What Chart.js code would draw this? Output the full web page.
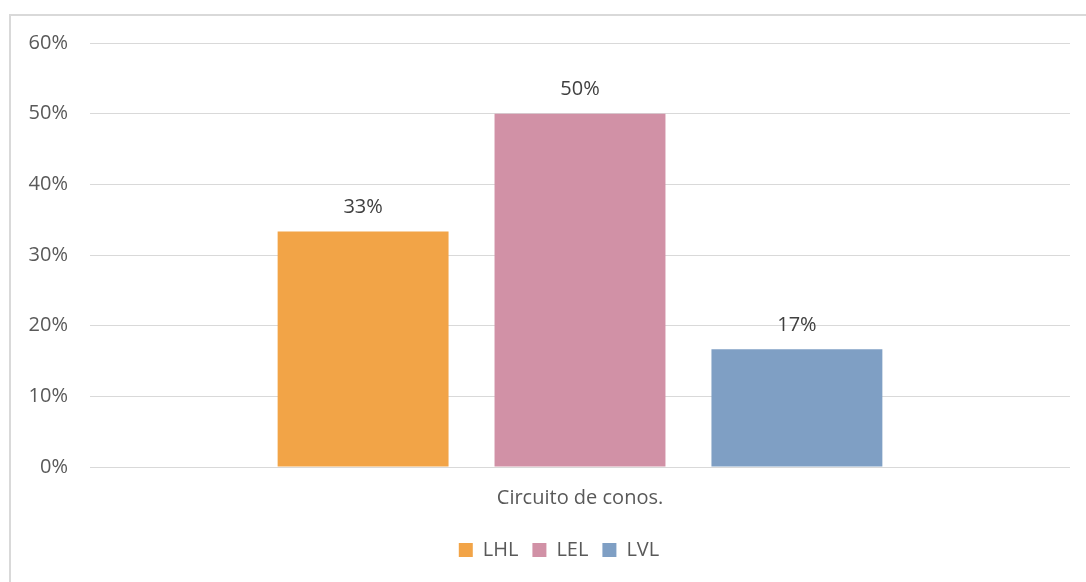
<!DOCTYPE html>
<html>
<head>
<meta charset="utf-8">
<script src="https://cdn.jsdelivr.net/npm/chart.js@4"></script>
<style>
    html, body { margin: 0; background: #fff; overflow: hidden; width: 1086px; height: 582px; }
    #frame { position: absolute; left: 9px; top: 14px; width: 1102px; height: 600px; border: 2px solid #d9d9d9; box-sizing: border-box; }
    #wrap { position: absolute; left: 9px; top: 9px; width: 1100px; height: 573px; }
</style>
</head>
<body>
<div id="frame"></div>
<div id="wrap"><canvas id="chart"></canvas></div>
<script>
const categories = ["Circuito de conos."];
const seriesNames = ["LHL", "LEL", "LVL"];
const seriesValues = [[33.33], [50], [16.67]];
const seriesColors = ["#f2a447", "#d191a6", "#7f9fc4"];
const yTicks = [0, 10, 20, 30, 40, 50, 60];

const fontFamily = '"Open Sans", sans-serif';

// Value labels above bars
const valueLabels = {
    id: 'valueLabels',
    afterDatasetsDraw(chart) {
        const ctx = chart.ctx;
        ctx.save();
        ctx.font = '20px ' + fontFamily;
        ctx.fillStyle = '#404040';
        ctx.textAlign = 'center';
        ctx.textBaseline = 'bottom';
        chart.data.datasets.forEach((ds, i) => {
            chart.getDatasetMeta(i).data.forEach((bar, j) => {
                ctx.fillText(Math.round(ds.data[j]) + '%', bar.x, bar.y - 14);
            });
        });
        ctx.restore();
    }
};

const ctx = document.getElementById('chart').getContext('2d');
new Chart(ctx, {
    type: 'bar',
    data: {
        labels: categories,
        datasets: seriesNames.map((name, i) => ({
            label: name,
            data: seriesValues[i],
            backgroundColor: seriesColors[i],
            categoryPercentage: 0.664,
            barPercentage: 0.788
        }))
    },
    options: {
        responsive: true,
        maintainAspectRatio: false,
        animation: false,
        layout: { padding: { left: 0, right: 0, top: 24, bottom: 12 } },
        scales: {
            x: {
                afterFit(scale) { scale.height += 5; },
                grid: { display: false },
                border: { display: false },
                ticks: { color: '#595959', font: { size: 20, family: fontFamily }, padding: 11 }
            },
            y: {
                min: 0,
                max: 60,
                afterBuildTicks(scale) { scale.ticks = yTicks.map(v => ({ value: v })); },
                afterFit(scale) { scale.width = 81; },
                grid: { color: '#d9d9d9', lineWidth: 1, drawTicks: false },
                border: { display: false },
                ticks: {
                    color: '#595959',
                    font: { size: 20, family: fontFamily },
                    padding: 22,
                    callback: v => v + '%'
                }
            },
            // empty spacer on the right so the plot ends before the frame edge
            yRight: {
                position: 'right',
                min: 0,
                max: 60,
                afterFit(scale) { scale.width = 39; },
                grid: { display: false },
                border: { display: false },
                ticks: { display: false }
            }
        },
        plugins: {
            legend: {
                position: 'bottom',
                labels: {
                    boxWidth: 14,
                    boxHeight: 14,
                    padding: 14,
                    color: '#595959',
                    font: { size: 20, family: fontFamily }
                }
            },
            tooltip: { enabled: false }
        }
    },
    plugins: [valueLabels]
});
</script>
</body>
</html>
